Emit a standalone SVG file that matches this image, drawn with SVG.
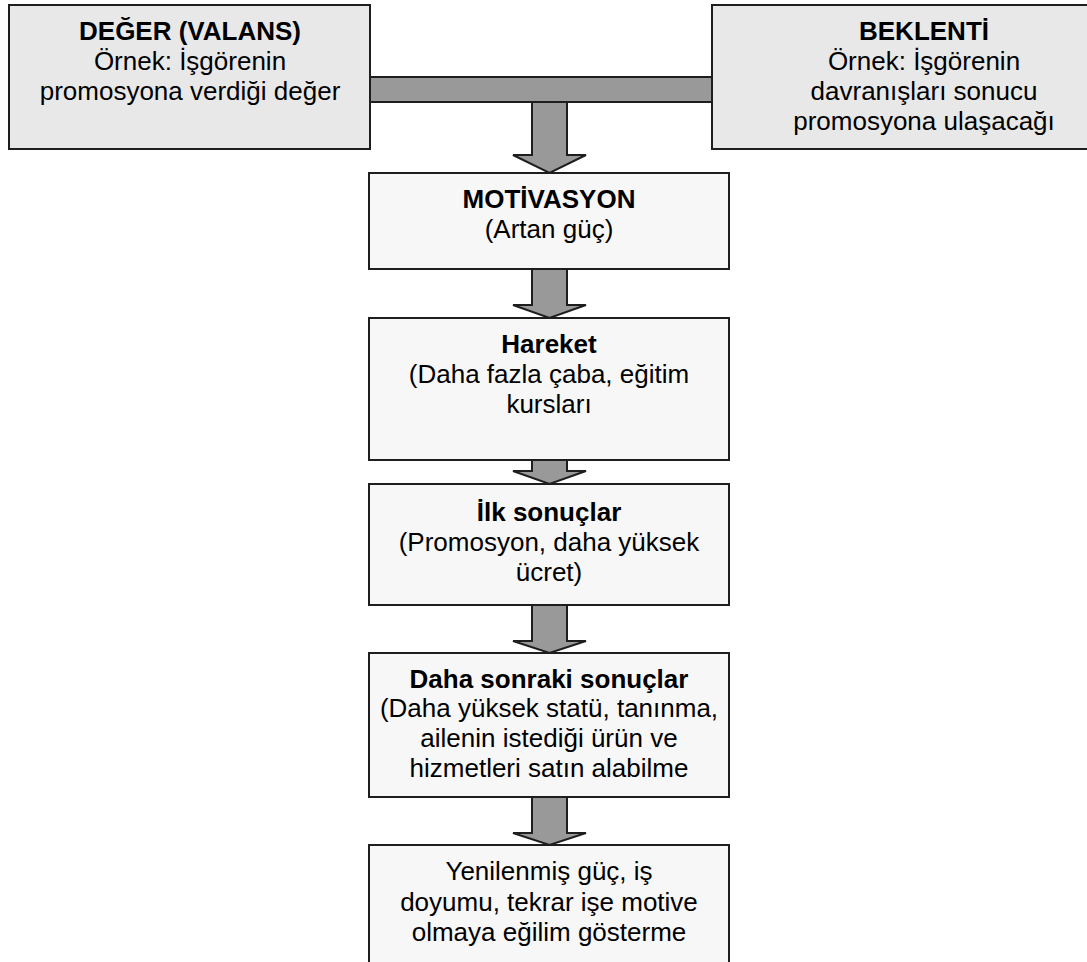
<svg xmlns="http://www.w3.org/2000/svg" width="1087" height="962" viewBox="0 0 1087 962">
  <style>
    .top { fill: #e8e8e8; stroke: #1e1e1e; stroke-width: 2; }
    .box { fill: #f7f7f7; stroke: #1e1e1e; stroke-width: 2; }
    .arrow { fill: #999999; stroke: #1e1e1e; stroke-width: 2; stroke-linejoin: miter; }
    text { font-family: "Liberation Sans", Arial, sans-serif; font-size: 26px; fill: #000; text-anchor: middle; }
    .b { font-weight: bold; }
  </style>
  <rect width="1087" height="962" fill="#ffffff"/>

  <!-- connectors: joining bar and block arrows -->
  <g id="connectors">
    <rect class="arrow" x="370" y="77" width="342" height="25"/>
    <polygon class="arrow" points="532,102 567,102 567,155 586,155 549.5,173 513,155 532,155"/>
    <polygon class="arrow" points="532,269 567,269 567,305 586,305 549.5,318 513,305 532,305"/>
    <polygon class="arrow" points="532,460 567,460 567,471 586,471 549.5,484 513,471 532,471"/>
    <polygon class="arrow" points="532,605 567,605 567,641 586,641 549.5,653 513,641 532,641"/>
    <polygon class="arrow" points="532,797 567,797 567,833 586,833 549.5,845 513,833 532,833"/>
  </g>

  <g id="deger">
    <rect class="top" x="9" y="5" width="361" height="144"/>
    <text x="190" y="40" class="b">DEĞER (VALANS)</text>
    <text x="190" y="70">Örnek: İşgörenin</text>
    <text x="190" y="100">promosyona verdiği değer</text>
  </g>

  <g id="beklenti">
    <rect class="top" x="712" y="5" width="400" height="144"/>
    <text x="924" y="40" class="b">BEKLENTİ</text>
    <text x="924" y="70">Örnek: İşgörenin</text>
    <text x="924" y="100">davranışları sonucu</text>
    <text x="924" y="130">promosyona ulaşacağı</text>
  </g>

  <g id="motivasyon">
    <rect class="box" x="369" y="173" width="360" height="96"/>
    <text x="549" y="208" class="b">MOTİVASYON</text>
    <text x="549" y="238">(Artan güç)</text>
  </g>

  <g id="hareket">
    <rect class="box" x="369" y="318" width="360" height="142"/>
    <text x="549" y="353" class="b">Hareket</text>
    <text x="549" y="383">(Daha fazla çaba, eğitim</text>
    <text x="549" y="413">kursları</text>
  </g>

  <g id="ilk-sonuclar">
    <rect class="box" x="369" y="484" width="360" height="121"/>
    <text x="549" y="521" class="b">İlk sonuçlar</text>
    <text x="549" y="551">(Promosyon, daha yüksek</text>
    <text x="549" y="581">ücret)</text>
  </g>

  <g id="sonraki-sonuclar">
    <rect class="box" x="369" y="653" width="360" height="144"/>
    <text x="549" y="688" class="b">Daha sonraki sonuçlar</text>
    <text x="549" y="717">(Daha yüksek statü, tanınma,</text>
    <text x="549" y="747">ailenin istediği ürün ve</text>
    <text x="549" y="777">hizmetleri satın alabilme</text>
  </g>

  <g id="yenilenmis-guc">
    <rect class="box" x="369" y="845" width="360" height="130"/>
    <text x="549" y="880">Yenilenmiş güç, iş</text>
    <text x="549" y="911">doyumu, tekrar işe motive</text>
    <text x="549" y="941">olmaya eğilim gösterme</text>
  </g>
</svg>
